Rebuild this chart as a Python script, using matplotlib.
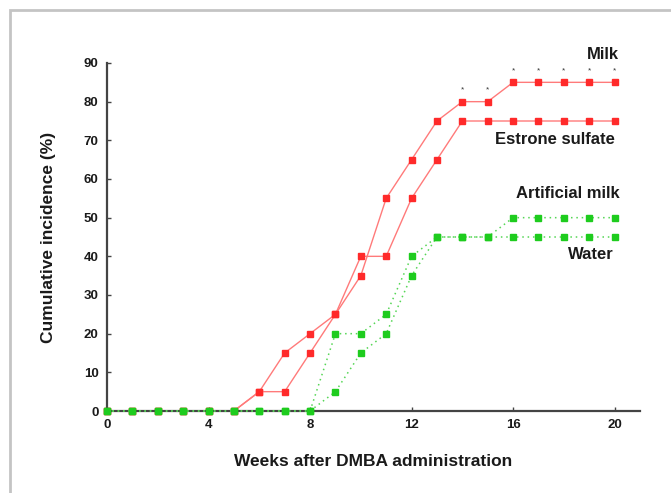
import matplotlib
matplotlib.use("Agg")
import matplotlib.pyplot as plt
from matplotlib.patches import Rectangle

plt.rcParams['font.family'] = ['Liberation Sans', 'DejaVu Sans']

weeks = list(range(21))
milk = [0, 0, 0, 0, 0, 0, 5, 15, 20, 25, 35, 55, 65, 75, 80, 80, 85, 85, 85, 85, 85]
estrone = [0, 0, 0, 0, 0, 0, 5, 5, 15, 25, 40, 40, 55, 65, 75, 75, 75, 75, 75, 75, 75]
artificial = [0, 0, 0, 0, 0, 0, 0, 0, 0, 20, 20, 25, 40, 45, 45, 45, 50, 50, 50, 50, 50]
water = [0, 0, 0, 0, 0, 0, 0, 0, 0, 5, 15, 20, 35, 45, 45, 45, 45, 45, 45, 45, 45]
star_weeks = [14, 15, 16, 17, 18, 19, 20]

series = [
    ("Milk", milk, 92.3, 20.15, "red"),
    ("Estrone sulfate", estrone, 70.3, 20.0, "red"),
    ("Artificial milk", artificial, 56.2, 20.2, "green"),
    ("Water", water, 40.6, 19.95, "green"),
]

fig = plt.figure(figsize=(6.71, 4.93), dpi=100)
# grey frame around the figure (clipped at right/bottom in the original)
fig.patches.append(Rectangle((10 / 671, -0.1), 1.2, 1 - 10 / 493 + 0.1,
                             transform=fig.transFigure, fill=False,
                             edgecolor="#c4c4c4", linewidth=2))

ax = fig.add_axes([107 / 671, 1 - 411 / 493, 533 / 671, 348 / 493])

for name, vals, ylab, xlab, kind in series:
    if kind == "red":
        ax.plot(weeks, vals, color="#ff7a7a", lw=1.0, ls="-",
                marker="s", ms=5, mfc="#ff2a2a", mec="#ff2a2a", zorder=2,
                clip_on=False)
    else:
        ax.plot(weeks, vals, color="#55d655", lw=1.1, ls=(0, (1, 2.5)),
                marker="s", ms=5, mfc="#1ecc1e", mec="#1ecc1e", zorder=3,
                clip_on=False)
    ax.text(xlab, ylab, name, ha="right", va="center",
            fontsize=12, fontweight="bold", color="#1a1a1a")

for w in star_weeks:
    ax.text(w, milk[w] + 3, "*", ha="center", va="center",
            fontsize=6, color="#333333")

ax.set_xlim(0, 21)
ax.set_ylim(0, 90)
ax.set_xticks([0, 4, 8, 12, 16, 20])
ax.set_yticks(range(0, 91, 10))
ax.spines["top"].set_visible(False)
ax.spines["right"].set_visible(False)
for s in ("left", "bottom"):
    ax.spines[s].set_linewidth(1.6)
    ax.spines[s].set_color("#444444")
ax.tick_params(direction="in", length=3, width=1, colors="#444444",
               labelcolor="#1a1a1a", labelsize=9.5, pad=6)
for lab in ax.get_xticklabels() + ax.get_yticklabels():
    lab.set_fontweight("bold")
ax.set_xlabel("Weeks after DMBA administration", fontsize=12.5,
              fontweight="bold", color="#1a1a1a", va="center")
ax.set_ylabel("Cumulative incidence (%)", fontsize=12.5,
              fontweight="bold", color="#1a1a1a", va="center")
ax.xaxis.set_label_coords(0.5, (411 - 462) / 348)
ax.yaxis.set_label_coords((48 - 107) / 533, 0.5)

fig.savefig("out.png", dpi=100)
